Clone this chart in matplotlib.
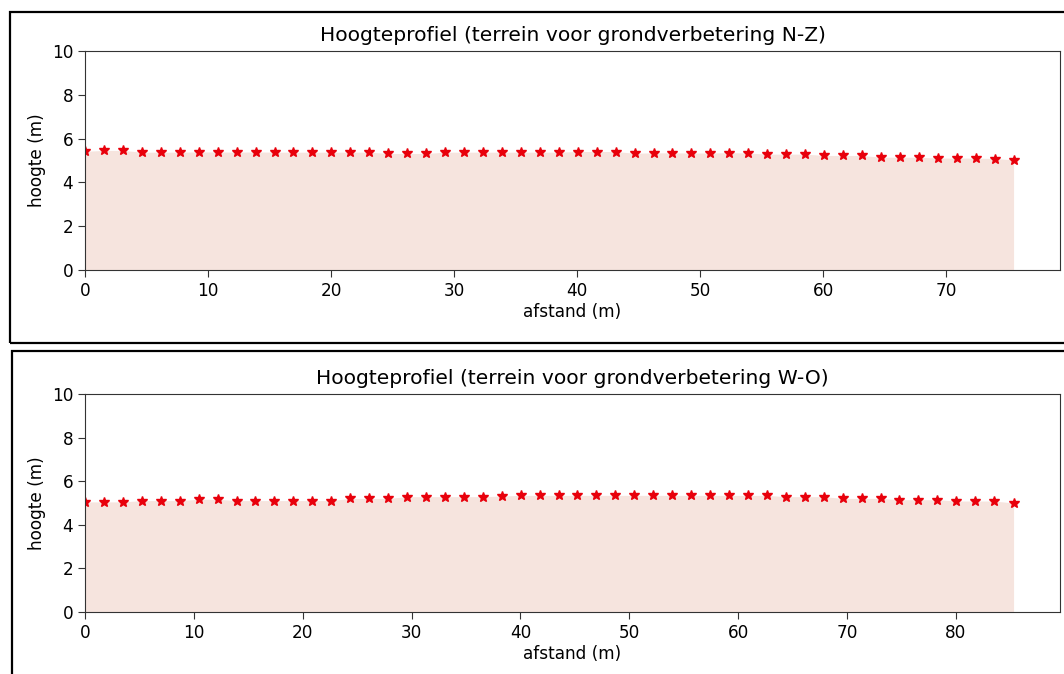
"""Hoogteprofielen terrein voor grondverbetering (N-Z en W-O)."""

import matplotlib
import matplotlib.pyplot as plt
from matplotlib.patches import Rectangle

matplotlib.use("Agg")

# N-Z profiel: afstand (m) en hoogte (m)
afstand_nz = [0.0, 1.54, 3.08, 4.62, 6.16, 7.70, 9.24, 10.78, 12.32, 13.86,
              15.40, 16.94, 18.48, 20.02, 21.56, 23.10, 24.64, 26.18, 27.72, 29.26,
              30.80, 32.34, 33.88, 35.42, 36.96, 38.50, 40.04, 41.58, 43.12, 44.66,
              46.20, 47.74, 49.28, 50.82, 52.36, 53.90, 55.44, 56.98, 58.52, 60.06,
              61.60, 63.14, 64.68, 66.22, 67.76, 69.30, 70.84, 72.38, 73.92, 75.46]
hoogte_nz = [5.42, 5.46, 5.46, 5.38, 5.38, 5.38, 5.39, 5.39, 5.38, 5.39,
             5.38, 5.38, 5.38, 5.38, 5.38, 5.38, 5.32, 5.32, 5.32, 5.38,
             5.38, 5.38, 5.38, 5.38, 5.38, 5.38, 5.41, 5.41, 5.41, 5.33,
             5.35, 5.35, 5.34, 5.34, 5.36, 5.34, 5.29, 5.29, 5.29, 5.23,
             5.23, 5.23, 5.15, 5.15, 5.15, 5.11, 5.11, 5.11, 5.09, 5.03]

# W-O profiel
afstand_wo = [0.0, 1.74, 3.48, 5.22, 6.96, 8.70, 10.44, 12.18, 13.92, 15.66,
              17.40, 19.14, 20.88, 22.62, 24.36, 26.10, 27.84, 29.58, 31.32, 33.06,
              34.80, 36.54, 38.28, 40.02, 41.76, 43.50, 45.24, 46.98, 48.72, 50.46,
              52.20, 53.94, 55.68, 57.42, 59.16, 60.90, 62.64, 64.38, 66.12, 67.86,
              69.60, 71.34, 73.08, 74.82, 76.56, 78.30, 80.04, 81.78, 83.52, 85.30]
hoogte_wo = [5.05, 5.05, 5.05, 5.11, 5.11, 5.11, 5.17, 5.17, 5.11, 5.11,
             5.11, 5.11, 5.11, 5.11, 5.21, 5.21, 5.21, 5.29, 5.29, 5.29,
             5.29, 5.29, 5.32, 5.35, 5.35, 5.35, 5.35, 5.35, 5.35, 5.35,
             5.35, 5.35, 5.35, 5.35, 5.35, 5.35, 5.35, 5.29, 5.29, 5.29,
             5.21, 5.21, 5.21, 5.15, 5.15, 5.15, 5.09, 5.09, 5.09, 5.00]

titels = ["Hoogteprofiel (terrein voor grondverbetering N-Z)",
          "Hoogteprofiel (terrein voor grondverbetering W-O)"]

W, H = 1064, 674


def profiel(ax, x, y, titel):
    ax.fill_between(x, y, color="#f6e4de", linewidth=0)
    ax.plot(x, y, "*", color="#e8000b", markersize=7, linestyle="none")
    ax.set_xlim(left=0)
    ax.set_ylim(0, 10)
    ax.set_title(titel, fontsize=14.6, pad=7)
    ax.set_xlabel("afstand (m)", fontsize=12.2, labelpad=2)
    ax.set_ylabel("hoogte (m)", fontsize=12.2)
    ax.tick_params(labelsize=12.2, length=5, color="#333333")
    for s in ax.spines.values():
        s.set_color("#333333")


fig = plt.figure(figsize=(W / 100, H / 100), dpi=100)

ax1 = fig.add_axes([85 / W, (H - 270) / H, 975 / W, 219 / H])
profiel(ax1, afstand_nz, hoogte_nz, titels[0])

ax2 = fig.add_axes([85 / W, (H - 612) / H, 975 / W, 218 / H])
profiel(ax2, afstand_wo, hoogte_wo, titels[1])

# zwarte kaders rond beide panelen
for x0, ytop, ybot in [(10, 12, 343), (11.5, 351, 700)]:
    fig.add_artist(Rectangle((x0 / W, (H - ybot) / H), (W + 20 - x0) / W,
                             (ybot - ytop) / H, transform=fig.transFigure,
                             fill=False, edgecolor="black", linewidth=1.6))

fig.savefig("out.png", dpi=100)
plt.close(fig)
